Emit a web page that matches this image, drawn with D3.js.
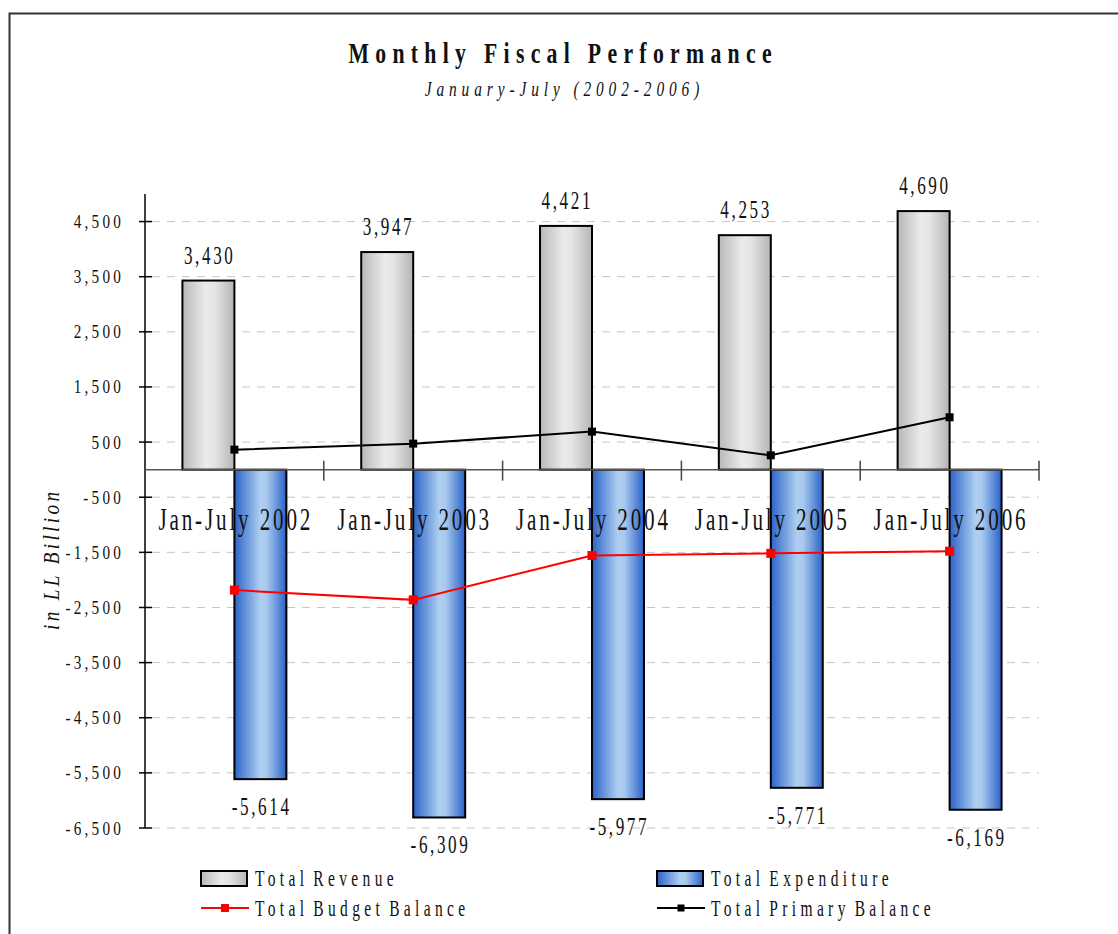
<!DOCTYPE html>
<html>
<head>
<meta charset="utf-8">
<script src="https://cdn.jsdelivr.net/npm/d3@7"></script>
<style>
  html, body { margin: 0; padding: 0; background: #fff; }
  svg { display: block; }
</style>
</head>
<body>
<svg id="chart" width="1118" height="934"></svg>
<script>
// Monthly fiscal performance, Jan-July 2002-2006 (LL billion)

var categories = ["Jan-July 2002", "Jan-July 2003", "Jan-July 2004", "Jan-July 2005", "Jan-July 2006"];
var revenue = [3430, 3947, 4421, 4253, 4690];
var expenditure = [-5614, -6309, -5977, -5771, -6169];
var budgetBalance = [-2184, -2362, -1556, -1518, -1479];
var primaryBalance = [363, 472, 690, 260, 950];
var yTicks = [4500, 3500, 2500, 1500, 500, -500, -1500, -2500, -3500, -4500, -5500, -6500];
var yDomain = [-6500, 5000];

var seriesNames = ["Total Revenue", "Total Expenditure", "Total Budget Balance", "Total Primary Balance"];

var SERIF = "'Liberation Serif', 'Times New Roman', serif";
var svg = d3.select("#chart");

// outer frame (runs off the right / bottom edge like the original)
svg.append("rect")
  .attr("x", 9.5).attr("y", 13.5)
  .attr("width", 1130).attr("height", 940)
  .attr("fill", "none").attr("stroke", "#333").attr("stroke-width", 2);

var defs = svg.append("defs");
var addGrad = function(id, stops) {
  var g = defs.append("linearGradient").attr("id", id)
    .attr("x1", 0).attr("x2", 1).attr("y1", 0).attr("y2", 0);
  stops.forEach(function(s) {
    g.append("stop").attr("offset", s[0]).attr("stop-color", s[1]);
  });
};
addGrad("gradRev", [[0, "#b8b8b8"], [0.45, "#ebebeb"], [0.62, "#e4e4e4"], [1, "#b4b4b4"]]);
addGrad("gradExp", [[0, "#2c63c9"], [0.5, "#aecff0"], [0.62, "#a9caee"], [1, "#2a61c8"]]);

// text helper: narrow glyphs + wide tracking, like the scanned original
var stext = function(parent, x, y, str, o) {
  var sx = o.sx || 1, ls = o.ls || 0, anchor = o.anchor || "middle";
  var tr = "translate(" + x + "," + y + ")" + (o.rotate ? " rotate(" + o.rotate + ")" : "") + " scale(" + sx + ",1)";
  return parent.append("text")
    .attr("transform", tr)
    .attr("dx", anchor === "middle" ? ls / 2 : 0)
    .attr("text-anchor", anchor)
    .style("font-family", SERIF)
    .style("font-size", o.size + "px")
    .style("font-weight", o.bold ? "bold" : "normal")
    .style("font-style", o.italic ? "italic" : "normal")
    .style("letter-spacing", ls + "px")
    .style("word-spacing", (o.ws || 0) + "px")
    .attr("fill", "#111")
    .text(str);
};

var fmt = function(v) { return d3.format(",")(v).replace("\u2212", "-"); };

var left = 145, right = 1039;
var y = d3.scaleLinear().domain(yDomain).range([828, 194]);
var x = d3.scaleBand().domain(categories).range([left, right]).padding(0);
var xs = d3.scaleBand().domain(["rev", "exp"]).range([0, x.bandwidth()])
  .paddingInner(0).paddingOuter(0.72);

// title
stext(svg, 560, 63, "Monthly Fiscal Performance", { size: 29, bold: true, sx: 0.75, ls: 8.4 });
stext(svg, 562, 96, "January-July (2002-2006)", { size: 22, italic: true, sx: 0.7, ls: 7 });

// gridlines
svg.append("g").selectAll("line").data(yTicks).enter().append("line")
  .attr("x1", left + 7).attr("x2", right)
  .attr("y1", function(d) { return y(d); }).attr("y2", function(d) { return y(d); })
  .attr("stroke", "#c6c6c6").attr("stroke-width", 1).attr("stroke-dasharray", "8,7");

// bars
var groups = svg.append("g").selectAll("g").data(categories).enter().append("g")
  .attr("transform", function(d) { return "translate(" + x(d) + ",0)"; });

groups.append("rect")
  .attr("x", xs("rev")).attr("width", xs.bandwidth())
  .attr("y", function(d, i) { return y(revenue[i]); })
  .attr("height", function(d, i) { return y(0) - y(revenue[i]); })
  .attr("fill", "url(#gradRev)").attr("stroke", "#000").attr("stroke-width", 2);

groups.append("rect")
  .attr("x", xs("exp")).attr("width", xs.bandwidth())
  .attr("y", y(0))
  .attr("height", function(d, i) { return y(expenditure[i]) - y(0); })
  .attr("fill", "url(#gradExp)").attr("stroke", "#000").attr("stroke-width", 2);

// y axis
var yAxis = svg.append("g");
yAxis.append("line").attr("x1", left).attr("x2", left).attr("y1", y(yDomain[1])).attr("y2", y(yDomain[0]))
  .attr("stroke", "#000").attr("stroke-width", 1.5);
yTicks.forEach(function(t) {
  yAxis.append("line").attr("x1", left - 6).attr("x2", left + 7).attr("y1", y(t)).attr("y2", y(t))
    .attr("stroke", "#000").attr("stroke-width", 1.5);
  stext(yAxis, 124, y(t) + 6.5, fmt(t), { size: 19, sx: 0.8, ls: 4, anchor: "end" });
});
stext(svg, 59, 561, "in  LL  Billion", { size: 24, italic: true, sx: 0.8, ls: 4.2, rotate: -90 });

// zero axis with category ticks
svg.append("line").attr("x1", left).attr("x2", right).attr("y1", y(0)).attr("y2", y(0))
  .attr("stroke", "#555").attr("stroke-width", 1.5);
categories.forEach(function(c) {
  var bx = x(c) + x.bandwidth();
  svg.append("line").attr("x1", bx).attr("x2", bx).attr("y1", y(0) - 9).attr("y2", y(0) + 11)
    .attr("stroke", "#444").attr("stroke-width", 1.5);
});

// category labels
categories.forEach(function(c) {
  stext(svg, x(c) + x.bandwidth() / 2, 530, c, { size: 32, sx: 0.66, ls: 4.3 });
});

// data labels
categories.forEach(function(c, i) {
  stext(svg, x(c) + xs("rev") + xs.bandwidth() / 2, y(revenue[i]) - 17, fmt(revenue[i]), { size: 24.5, sx: 0.7, ls: 3.7 });
  stext(svg, x(c) + xs("exp") + xs.bandwidth() / 2, y(expenditure[i]) + 36, fmt(expenditure[i]), { size: 24.5, sx: 0.7, ls: 3.7 });
});

// lines
var cx = function(d, i) { return x(categories[i]) + x.bandwidth() / 2; };
var drawLine = function(vals, color, ms) {
  var line = d3.line().x(cx).y(function(d) { return y(d); });
  svg.append("path").datum(vals).attr("d", line)
    .attr("fill", "none").attr("stroke", color).attr("stroke-width", 2);
  svg.append("g").selectAll("rect").data(vals).enter().append("rect")
    .attr("x", function(d, i) { return cx(d, i) - ms / 2; })
    .attr("y", function(d) { return y(d) - ms / 2; })
    .attr("width", ms).attr("height", ms).attr("fill", color);
};
drawLine(primaryBalance, "#000", 8);
drawLine(budgetBalance, "#ff0000", 9);

// legend
var legend = svg.append("g");
var legendItems = [
  { name: seriesNames[0], kind: "bar", fill: "url(#gradRev)", lx: 201, ly: 878 },
  { name: seriesNames[1], kind: "bar", fill: "url(#gradExp)", lx: 657, ly: 878 },
  { name: seriesNames[2], kind: "line", color: "#ff0000", ms: 8, lx: 201, ly: 908 },
  { name: seriesNames[3], kind: "line", color: "#000", ms: 7, lx: 657, ly: 908 }
];
legendItems.forEach(function(d) {
  if (d.kind === "bar") {
    legend.append("rect").attr("x", d.lx).attr("y", d.ly - 7).attr("width", 46).attr("height", 15)
      .attr("fill", d.fill).attr("stroke", "#000").attr("stroke-width", 2);
  } else {
    legend.append("line").attr("x1", d.lx).attr("x2", d.lx + 48).attr("y1", d.ly).attr("y2", d.ly)
      .attr("stroke", d.color).attr("stroke-width", 2);
    legend.append("rect").attr("x", d.lx + 24 - d.ms / 2).attr("y", d.ly - d.ms / 2)
      .attr("width", d.ms).attr("height", d.ms).attr("fill", d.color);
  }
  stext(legend, d.lx + 54, d.ly + 8, d.name, { size: 23.5, sx: 0.66, ls: 6.6, ws: -5, anchor: "start" });
});
</script>
</body>
</html>
